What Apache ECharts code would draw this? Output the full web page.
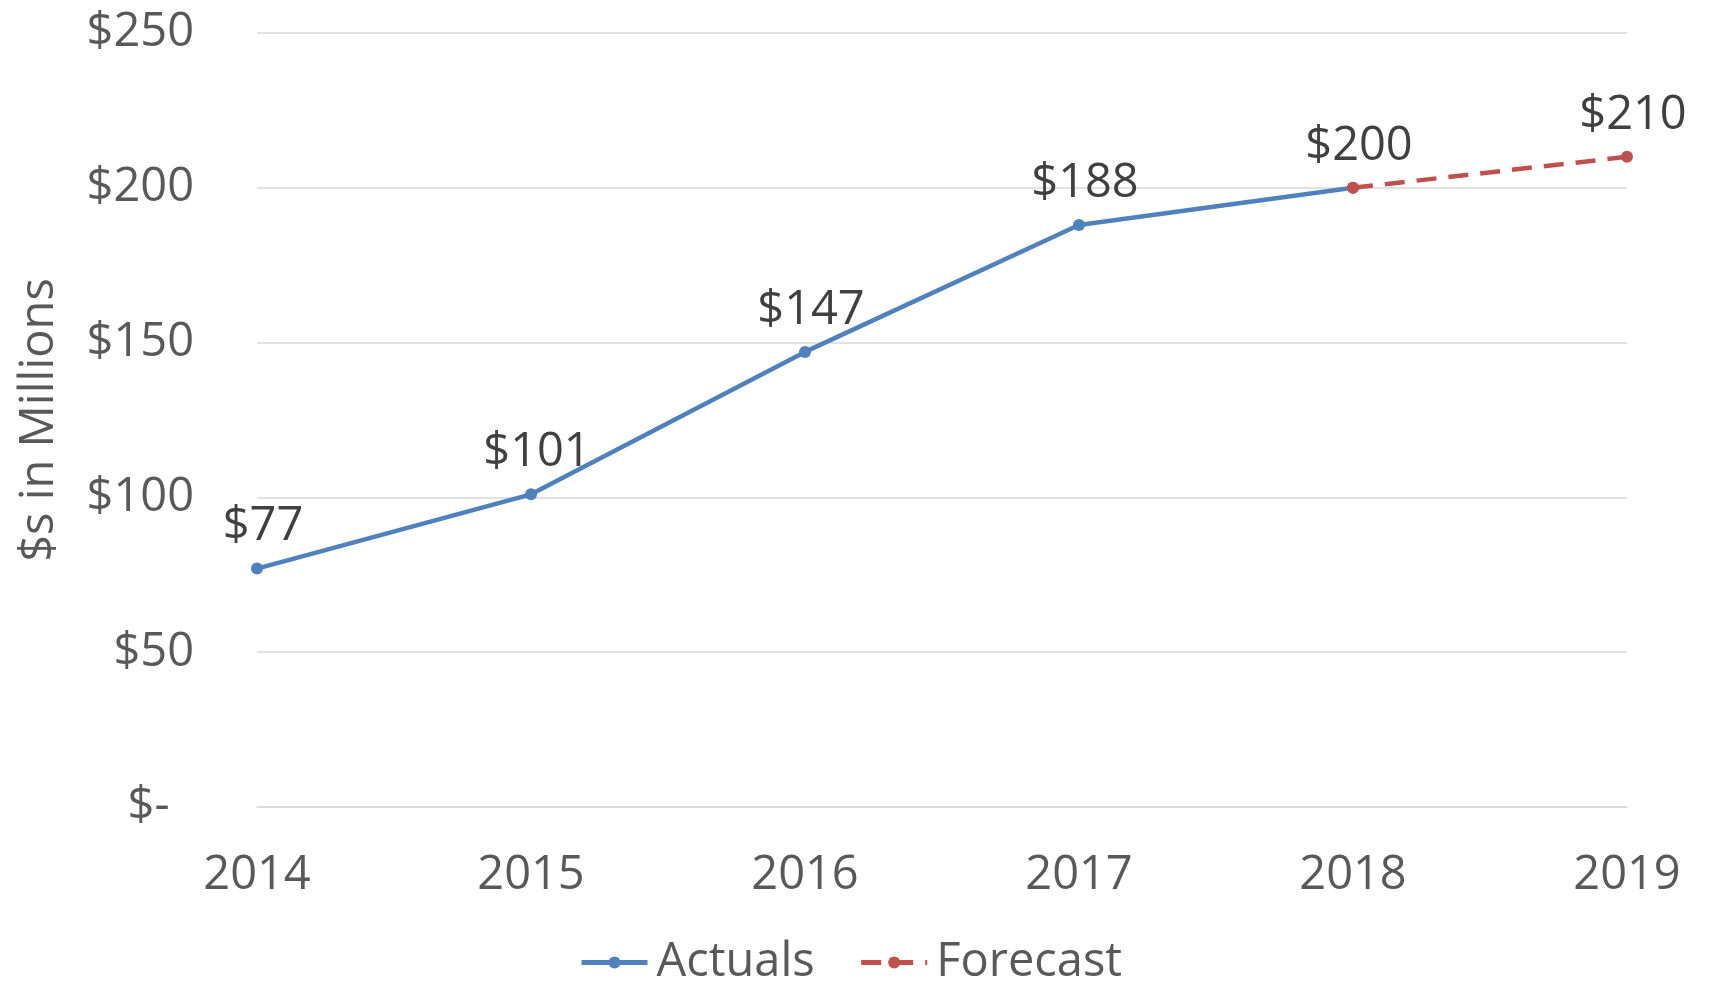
<!DOCTYPE html>
<html>
<head>
<meta charset="utf-8">
<script src="https://cdn.jsdelivr.net/npm/echarts@6/dist/echarts.min.js"></script>
<style>
  html, body { margin: 0; padding: 0; background: #fff; }
  #chart { width: 1710px; height: 983px; }
</style>
</head>
<body>
<div id="chart"></div>
<script>
// 数据
var years = ["2014", "2015", "2016", "2017", "2018", "2019"];
var actuals = [77, 101, 147, 188, 200, null];
var forecast = [null, null, null, null, 200, 210];
var yTicks = [0, 50, 100, 150, 200, 250];

var font = "Open Sans";
var fs = 47;
var chart = echarts.init(document.getElementById("chart"));

var option = {
  animation: false,
  textStyle: { fontFamily: font },
  grid: { left: 257, right: 83, top: 33, bottom: 176 },
  legend: {
    left: 574,
    top: 934,
    itemWidth: 66,
    itemHeight: 15,
    itemGap: 44,
    lineStyle: { width: 5 },
    textStyle: { fontSize: fs, color: "#595959", fontFamily: font, padding: [0, 0, 0, 4] },
    data: ["Actuals", "Forecast"]
  },
  xAxis: {
    type: "category",
    data: years,
    boundaryGap: false,
    axisLine: { lineStyle: { color: "#d9d9d9", width: 1.5 } },
    axisTick: { show: false },
    axisLabel: { fontSize: fs, color: "#595959", margin: 45, fontFamily: font }
  },
  yAxis: {
    type: "value",
    min: yTicks[0],
    max: yTicks[yTicks.length - 1],
    interval: 50,
    name: "$s in Millions",
    nameLocation: "middle",
    nameGap: 194,
    nameTextStyle: { fontSize: fs, color: "#595959", fontFamily: font },
    axisLine: { show: false },
    axisTick: { show: false },
    splitLine: { lineStyle: { color: "#d9d9d9", width: 1.5 } },
    axisLabel: {
      fontSize: fs,
      color: "#595959",
      margin: 63,
      fontFamily: font,
      formatter: function (v) { return v === 0 ? "$-  " : "$" + v; }
    }
  },
  series: [
    {
      name: "Actuals",
      type: "line",
      data: actuals,
      symbol: "circle",
      symbolSize: 12,
      z: 2,
      lineStyle: { color: "#4f81bd", width: 4.5 },
      itemStyle: { color: "#4f81bd" },
      label: {
        show: true,
        position: "top",
        distance: 12,
        offset: [6, 0],
        fontSize: fs,
        color: "#404040",
        fontFamily: font,
        formatter: function (p) { return "$" + p.value; }
      }
    },
    {
      name: "Forecast",
      type: "line",
      data: forecast,
      symbol: "circle",
      symbolSize: 12,
      z: 3,
      lineStyle: { color: "#c0504d", width: 4.5, type: [20, 12] },
      itemStyle: { color: "#c0504d" },
      label: {
        show: true,
        position: "top",
        distance: 12,
        offset: [6, 0],
        fontSize: fs,
        color: "#404040",
        fontFamily: font,
        formatter: function (p) { return p.dataIndex === 5 ? "$" + p.value : ""; }
      }
    }
  ]
};

chart.setOption(option);
</script>
</body>
</html>
